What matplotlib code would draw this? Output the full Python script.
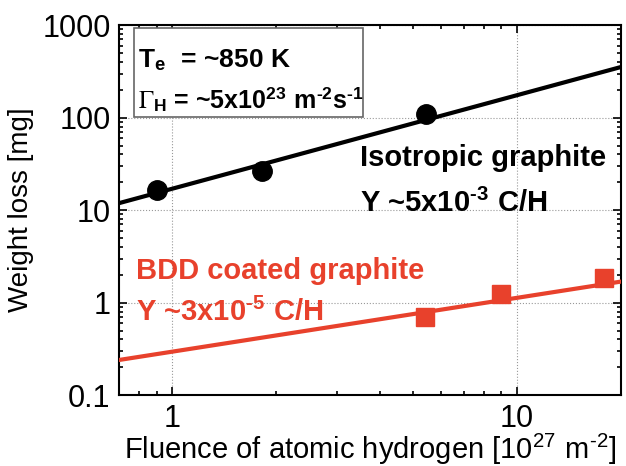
import matplotlib
matplotlib.use('Agg')
import matplotlib.pyplot as plt
from matplotlib.patches import Rectangle

plt.rcParams['font.family'] = ['Liberation Sans', 'DejaVu Sans']
plt.rcParams['mathtext.fontset'] = 'stix'

# measured points
iso_fluence = [0.9, 1.82, 5.44]
iso_loss = [16.4, 26.4, 110]
bdd_fluence = [5.4, 9.0, 17.9]
bdd_loss = [0.706, 1.23, 1.84]

# fitted lines (ends at x=0.7 and x=20)
line_x = [0.7, 20]
iso_line_y = [11.9, 353]
bdd_line_y = [0.24, 1.69]

red = '#e8412c'
hy = '\u2010'  # short hyphen for the superscripts

fig = plt.figure(figsize=(6.26, 4.66), dpi=100)
ax = fig.add_axes([0.190, 0.152, 0.802, 0.794])

ax.plot(line_x, iso_line_y, color='k', linewidth=3.0, zorder=3)
ax.plot(iso_fluence, iso_loss, 'o', color='k', markersize=14, zorder=4)
ax.plot(line_x, bdd_line_y, color=red, linewidth=3.0, zorder=3)
ax.plot(bdd_fluence, bdd_loss, 's', color=red, markersize=13, zorder=4)

ax.set_xscale('log')
ax.set_yscale('log')
ax.set_xlim(0.7, 20)
ax.set_ylim(0.1, 1000)
ax.set_xticks([1, 10])
ax.set_xticklabels(['1', '10'])
ax.set_yticks([0.1, 1, 10, 100, 1000])
ax.set_yticklabels(['0.1', '1', '10', '100', '1000'])
ax.grid(True, which='major', linestyle=':', color='#999999', linewidth=0.8)
ax.tick_params(which='both', direction='in', top=True, right=True, width=1.2)
ax.tick_params(which='major', length=6, labelsize=22, pad=6)
ax.tick_params(which='minor', length=3)
for s in ax.spines.values():
    s.set_linewidth(1.5)

ax.set_xlabel('Fluence of atomic hydrogen [10$^{\\mathdefault{27}}$ m$^{\\mathdefault{' + hy + '2}}$]',
              fontsize=21, labelpad=-1)
ax.set_ylabel('Weight loss [mg]', fontsize=20, labelpad=6)

# condition box
ax.add_patch(Rectangle((0.030, 0.751), 0.456, 0.240, transform=ax.transAxes,
                       facecolor='white', edgecolor='#666666', linewidth=1.2, zorder=5))
ax.text(0.037, 0.905, r'T$_{\mathdefault{e}}$  = ~850 K', transform=ax.transAxes,
        fontsize=19, fontweight='bold', va='center', ha='left', zorder=6)
ax.text(0.037, 0.80, '$\\Gamma_{\\mathdefault{H}}$ = ~5x10$^{\\mathdefault{23}}$ m$^{\\mathdefault{' + hy
        + '2}}$s$^{\\mathdefault{' + hy + '1}}$',
        transform=ax.transAxes, fontsize=18, fontweight='bold', va='center', ha='left', zorder=6)

ax.text(3.5, 29.8, 'Isotropic graphite', fontsize=21, fontweight='bold', color='k', va='baseline')
ax.text(3.5, 9.56, 'Y ~5x10$^{\\mathdefault{' + hy + '3}}$ C/H', fontsize=21, fontweight='bold',
        color='k', va='baseline')
ax.text(0.782, 1.82, 'BDD coated graphite', fontsize=21, fontweight='bold', color=red, va='baseline')
ax.text(0.782, 0.636, 'Y ~3x10$^{\\mathdefault{' + hy + '5}}$ C/H', fontsize=21, fontweight='bold',
        color=red, va='baseline')

fig.savefig('out.png', dpi=100)
